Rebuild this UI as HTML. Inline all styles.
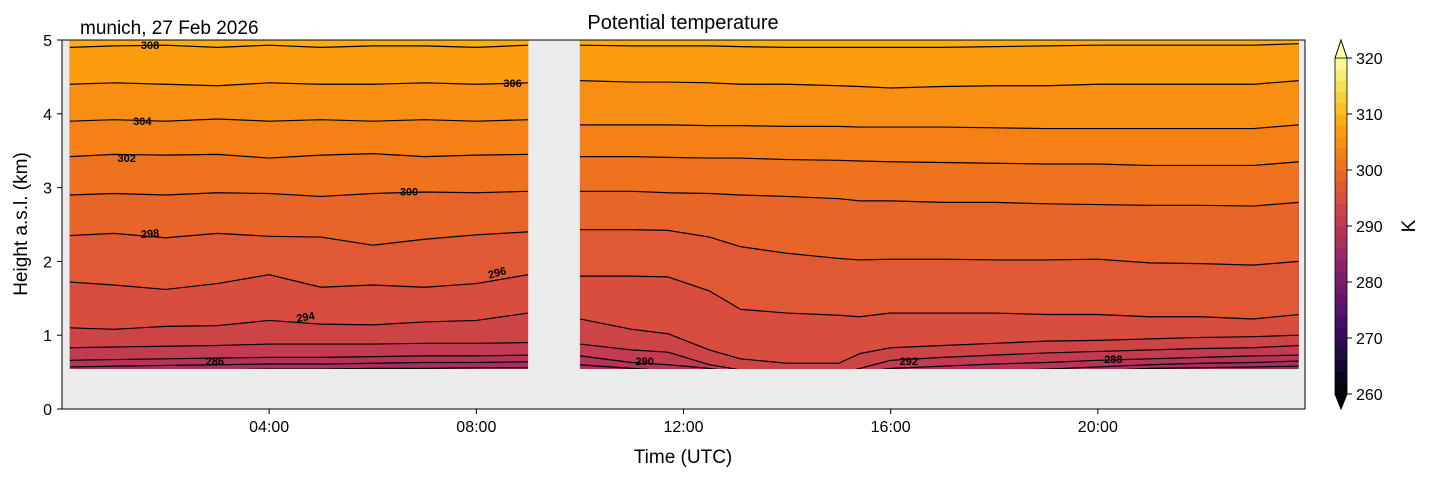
<!DOCTYPE html>
<html><head><meta charset="utf-8"><style>
body{margin:0;background:#fff;}
svg{display:block;font-family:"Liberation Sans","DejaVu Sans",sans-serif;}
</style></head><body>
<svg id="chart" width="1429" height="478" viewBox="0 0 1429 478" xmlns="http://www.w3.org/2000/svg">
<text x="683" y="29" font-size="20" text-anchor="middle">Potential temperature</text>
<text x="80" y="34" font-size="19">munich, 27 Feb 2026</text>
<rect x="62" y="40" width="1243" height="369" fill="#ebebeb"/>
<g id="plot"></g>
<rect x="62" y="40" width="1243" height="369" fill="none" stroke="#000" stroke-width="1"/>
<g id="axes"></g>
<text x="683" y="463" font-size="19" text-anchor="middle">Time (UTC)</text>
<text x="0" y="0" font-size="19" text-anchor="middle" transform="translate(27,224) rotate(-90)">Height a.s.l. (km)</text>
<g id="cbar"></g>
<text x="0" y="0" font-size="19" text-anchor="middle" transform="translate(1415,226) rotate(-90)">K</text>
</svg>
<script>
const levels=[286,288,290,292,294,296,298,300,302,304,306,308];
const leftTimes=[0.15,1,2,3,4,5,6,7,8,9];
const rightTimes=[10,11,11.7,12.5,13.1,14,15,15.4,16,17,18,19,20,21,22,23,23.88];
const left286=[0.52,0.52,0.53,0.53,0.54,0.54,0.55,0.55,0.56,0.56];
const left288=[0.57,0.58,0.59,0.6,0.61,0.61,0.62,0.63,0.63,0.64];
const left290=[0.66,0.67,0.68,0.69,0.7,0.7,0.71,0.72,0.72,0.73];
const left292=[0.83,0.84,0.85,0.86,0.88,0.88,0.88,0.89,0.89,0.9];
const left294=[1.1,1.08,1.12,1.13,1.2,1.15,1.14,1.18,1.2,1.3];
const left296=[1.72,1.68,1.62,1.7,1.82,1.65,1.68,1.65,1.7,1.82];
const left298=[2.35,2.38,2.32,2.38,2.34,2.33,2.22,2.3,2.36,2.4];
const left300=[2.9,2.92,2.9,2.93,2.92,2.88,2.92,2.94,2.93,2.95];
const left302=[3.42,3.45,3.44,3.45,3.4,3.44,3.46,3.42,3.44,3.45];
const left304=[3.9,3.92,3.9,3.93,3.9,3.92,3.9,3.92,3.9,3.92];
const left306=[4.4,4.42,4.4,4.38,4.42,4.4,4.4,4.42,4.4,4.42];
const left308=[4.9,4.92,4.93,4.9,4.93,4.9,4.92,4.92,4.9,4.93];
const right286=[0.47,0.46,0.46,0.45,0.45,0.45,0.45,0.45,0.45,0.46,0.48,0.5,0.52,0.55,0.56,0.57,0.58];
const right288=[0.6,0.55,0.52,0.48,0.46,0.45,0.45,0.46,0.48,0.5,0.52,0.54,0.57,0.6,0.62,0.63,0.65];
const right290=[0.72,0.63,0.6,0.55,0.5,0.48,0.48,0.5,0.55,0.58,0.61,0.63,0.66,0.68,0.7,0.72,0.73];
const right292=[0.88,0.8,0.77,0.6,0.53,0.48,0.48,0.55,0.66,0.7,0.73,0.76,0.78,0.8,0.82,0.83,0.86];
const right294=[1.22,1.08,1.02,0.8,0.68,0.62,0.62,0.75,0.83,0.86,0.89,0.92,0.93,0.95,0.97,0.98,1.0];
const right296=[1.8,1.8,1.79,1.6,1.35,1.3,1.27,1.25,1.3,1.3,1.3,1.28,1.28,1.25,1.25,1.22,1.28];
const right298=[2.43,2.43,2.42,2.33,2.2,2.11,2.04,2.02,2.03,2.03,2.02,2.02,2.03,1.98,1.97,1.95,2.0];
const right300=[2.95,2.95,2.93,2.92,2.9,2.88,2.85,2.82,2.82,2.8,2.8,2.78,2.77,2.76,2.76,2.75,2.8];
const right302=[3.42,3.42,3.41,3.4,3.4,3.38,3.37,3.36,3.35,3.34,3.33,3.32,3.32,3.3,3.3,3.3,3.35];
const right304=[3.85,3.85,3.85,3.84,3.84,3.83,3.83,3.82,3.82,3.82,3.81,3.8,3.8,3.8,3.8,3.8,3.85];
const right306=[4.45,4.43,4.43,4.42,4.4,4.4,4.38,4.37,4.35,4.37,4.38,4.38,4.4,4.4,4.4,4.4,4.45];
const right308=[4.93,4.92,4.92,4.92,4.91,4.9,4.9,4.9,4.9,4.9,4.91,4.92,4.93,4.93,4.93,4.93,4.95];
const leftLines=[left286,left288,left290,left292,left294,left296,left298,left300,left302,left304,left306,left308];
const rightLines=[right286,right288,right290,right292,right294,right296,right298,right300,right302,right304,right306,right308];
const xTickHours=[4,8,12,16,20];
const xTickLabels=["04:00","08:00","12:00","16:00","20:00"];
const yTicks=[0,1,2,3,4,5];
const cbarTicks=[260,270,280,290,300,310,320];
const labelLevels=[308,306,304,302,300,298,296,294,286,290,292,288];
const labelHours=[1.7,8.7,1.55,1.25,6.7,1.7,8.4,4.7,2.95,11.25,16.35,20.3];
const labelHeights=[4.93,4.42,3.9,3.4,2.95,2.38,1.85,1.25,0.65,0.65,0.65,0.68];
const labelAngles=[0,0,0,0,0,-5,-15,-10,0,0,0,0];

const NS="http://www.w3.org/2000/svg";
const X=h=>62+h*(1243/24);
const Y=k=>409-k*(369/5);
const CY=v=>394-(v-260)*(336/60);
const stops=[[0,0,0,4],[0.1,22,11,57],[0.2,66,10,104],[0.3,106,23,110],[0.4,147,38,103],[0.5,188,55,84],[0.6,221,81,58],[0.7,243,120,25],[0.8,252,165,10],[0.9,246,215,70],[1,252,255,164]];
function inferno(v){let t=Math.max(0,Math.min(1,(v-260)/60));for(let i=1;i<stops.length;i++){if(t<=stops[i][0]){const a=stops[i-1],b=stops[i],f=(t-a[0])/(b[0]-a[0]);return `rgb(${Math.round(a[1]+f*(b[1]-a[1]))},${Math.round(a[2]+f*(b[2]-a[2]))},${Math.round(a[3]+f*(b[3]-a[3]))})`;}}return "rgb(252,255,164)";}
function mk(tag,attrs,parent){const e=document.createElementNS(NS,tag);for(const k in attrs)e.setAttribute(k,attrs[k]);parent.appendChild(e);return e;}
const plot=document.getElementById('plot');
const defs=mk('defs',{},plot);
function segment(id,times,lines){
  const x0=X(times[0]),x1=X(times[times.length-1]);
  const cp=mk('clipPath',{id:id},defs);
  mk('rect',{x:x0,y:40,width:x1-x0,height:369-40},cp);
  const g=mk('g',{'clip-path':`url(#${id})`},plot);
  
  
  const base=mk('rect',{x:x0,y:40,width:x1-x0,height:330,fill:inferno(285)},g);
  
  
  levels.forEach((lv,i)=>{
    const pts=times.map((t,j)=>X(t)+','+Y(lines[i][j])).join(' ');
    const poly=mk('polygon',{points:pts+` ${x1},30 ${x0},30`,fill:inferno(lv+1)},g);
    
    
  });
  levels.forEach((lv,i)=>{
    const pts=times.map((t,j)=>X(t)+','+Y(lines[i][j])).join(' ');
    const pl=mk('polyline',{points:pts,fill:'none',stroke:'#000','stroke-width':1.2,'stroke-linejoin':'round'},g);
    
    
  });
}
segment('left-segment',leftTimes,leftLines);
segment('right-segment',rightTimes,rightLines);
labelLevels.forEach((lv,i)=>{
  const t=mk('text',{x:X(labelHours[i]),y:Y(labelHeights[i])+4,'font-size':11,'font-weight':'bold','text-anchor':'middle',transform:`rotate(${labelAngles[i]} ${X(labelHours[i])} ${Y(labelHeights[i])})`},plot);
  t.textContent=lv;
  
  
});
const axes=document.getElementById('axes');
xTickHours.forEach((h,i)=>{
  const l=mk('line',{x1:X(h),x2:X(h),y1:409,y2:414,stroke:'#000'},axes);
  
  
  const t=mk('text',{x:X(h),y:432,'font-size':16,'text-anchor':'middle'},axes);
  t.textContent=xTickLabels[i];
  
  
});
yTicks.forEach(v=>{
  const l=mk('line',{x1:57,x2:62,y1:Y(v),y2:Y(v),stroke:'#000'},axes);
  
  
  const t=mk('text',{x:52,y:Y(v)+6,'font-size':16,'text-anchor':'end'},axes);
  t.textContent=v;
  
  
});
const cb=document.getElementById('cbar');
for(let v=260;v<320;v+=2){
  const r=mk('rect',{x:1335,y:CY(v+2),width:12,height:CY(v)-CY(v+2)+0.5,fill:inferno(v+1)},cb);
  
  
}
const up=mk('polygon',{points:`1335,${CY(320)} 1347,${CY(320)} 1341,40`,fill:inferno(320),stroke:'#000','stroke-width':0.8},cb);


const dn=mk('polygon',{points:`1335,${CY(260)} 1347,${CY(260)} 1341,409`,fill:'#000',stroke:'#000','stroke-width':0.8},cb);


const cbo=mk('path',{d:`M1335,${CY(320)} L1341,40 L1347,${CY(320)} L1347,${CY(260)} L1341,409 L1335,${CY(260)} Z`,fill:'none',stroke:'#000','stroke-width':0.8},cb);


cbarTicks.forEach(v=>{
  const l=mk('line',{x1:1347,x2:1352,y1:CY(v),y2:CY(v),stroke:'#000'},cb);
  
  
  const t=mk('text',{x:1356,y:CY(v)+6,'font-size':16},cb);
  t.textContent=v;
  
  
});
</script>
</body></html>
